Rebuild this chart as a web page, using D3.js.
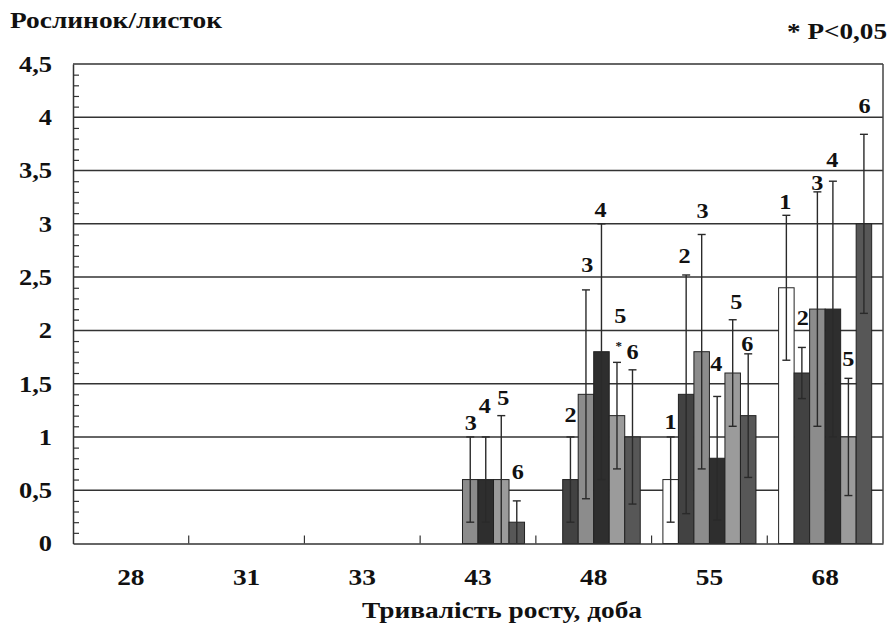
<!DOCTYPE html>
<html>
<head>
<meta charset="utf-8">
<script src="https://cdn.jsdelivr.net/npm/d3@7"></script>
<style>
  html, body { margin: 0; padding: 0; background: #fff; }
  svg { display: block; }
  text { font-family: "Liberation Serif", "Times New Roman", serif; font-weight: bold; fill: #111; }
</style>
</head>
<body>
<svg id="chart" width="890" height="628"></svg>
<script>
// ---- data ----
const categories = ["28", "31", "33", "43", "48", "55", "68"];
const seriesNames = ["1", "2", "3", "4", "5", "6"];
const s1 = [null, null, null, null, null, 0.6, 2.4];
const s2 = [null, null, null, null, 0.6, 1.4, 1.6];
const s3 = [null, null, null, 0.6, 1.4, 1.8, 2.2];
const s4 = [null, null, null, 0.6, 1.8, 0.8, 2.2];
const s5 = [null, null, null, 0.6, 1.2, 1.6, 1.0];
const s6 = [null, null, null, 0.2, 1.0, 1.2, 3.0];
const e1 = [null, null, null, null, null, 0.4, 0.68];
const e2 = [null, null, null, null, 0.4, 1.12, 0.24];
const e3 = [null, null, null, 0.4, 0.98, 1.1, 1.1];
const e4 = [null, null, null, 0.4, 1.2, 0.58, 1.2];
const e5 = [null, null, null, 0.6, 0.5, 0.5, 0.55];
const e6 = [null, null, null, 0.2, 0.63, 0.58, 0.84];
const yTicks = [0, 0.5, 1, 1.5, 2, 2.5, 3, 3.5, 4, 4.5];
const significant = [{ series: 4, category: "48" }]; // "*" marker (series index 4 = "5")

// ---- layout (label nudges, px) ----
const labelLift = [
  [null, null, null, null, null, 8, 6],
  [null, null, null, null, 15, 12, 22],
  [null, null, null, 7, 18, 16, 2],
  [null, null, null, 24, 6.5, 25, 14],
  [null, null, null, 11, 39, 11, 12],
  [null, null, null, 22, 10.6, 3.3, 21]
];
const labelShift = [
  [0, 0, 0, 0, 0, 0, -1],
  [0, 0, 0, 0, 0, -1.5, 1],
  [0, 0, 0, 0.5, 1.4, 1, 0],
  [0, 0, 0, -1, -1, -1, -0.7],
  [0, 0, 0, 2, 3.4, 3.5, 0],
  [0, 0, 0, 1, 0, -1, 0.6]
];

const values = [s1, s2, s3, s4, s5, s6];
const errors = [e1, e2, e3, e4, e5, e6];
const colors = ["#ffffff", "#424242", "#8c8c8c", "#2e2e2e", "#9b9b9b", "#575757"];

const svg = d3.select("#chart");
const pLeft = 73, pRight = 883, pTop = 64, pBottom = 543.5;

const x = d3.scaleBand().domain(categories).range([pLeft, pRight]).paddingInner(0).paddingOuter(0);
const xs = d3.scaleBand().domain(seriesNames).range([0, x.bandwidth()]).paddingInner(0).paddingOuter(0.73);
const y = d3.scaleLinear().domain([0, 4.5]).range([pBottom, pTop]);

// gridlines
svg.append("g").selectAll("line").data(yTicks.filter(d => d > 0)).join("line")
  .attr("x1", pLeft).attr("x2", pRight)
  .attr("y1", d => y(d)).attr("y2", d => y(d))
  .attr("stroke", "#333").attr("stroke-width", 1.5);

// right border
svg.append("line").attr("x1", pRight).attr("x2", pRight).attr("y1", y(4.5)).attr("y2", y(0))
  .attr("stroke", "#444").attr("stroke-width", 1.5);

// bars
const flat = [];
values.forEach((arr, si) => arr.forEach((v, ci) => {
  if (v !== null) flat.push({ si, ci, v, e: errors[si][ci] });
}));

svg.append("g").selectAll("rect").data(flat).join("rect")
  .attr("x", d => x(categories[d.ci]) + xs(seriesNames[d.si]))
  .attr("width", xs.bandwidth())
  .attr("y", d => y(d.v))
  .attr("height", d => y(0) - y(d.v))
  .attr("fill", d => colors[d.si])
  .attr("stroke", "#222").attr("stroke-width", 1);

// error bars
const cx = d => x(categories[d.ci]) + xs(seriesNames[d.si]) + xs.bandwidth() / 2;
const eg = svg.append("g").attr("stroke", "#2a2a2a").attr("stroke-width", 1.4);
eg.selectAll("line.v").data(flat).join("line").attr("class", "v")
  .attr("x1", cx).attr("x2", cx)
  .attr("y1", d => y(d.v + d.e)).attr("y2", d => y(Math.max(0, d.v - d.e)));
eg.selectAll("line.t").data(flat).join("line").attr("class", "t")
  .attr("x1", d => cx(d) - 4).attr("x2", d => cx(d) + 4)
  .attr("y1", d => y(d.v + d.e)).attr("y2", d => y(d.v + d.e));
eg.selectAll("line.b").data(flat.filter(d => d.v - d.e > 0.01)).join("line").attr("class", "b")
  .attr("x1", d => cx(d) - 4).attr("x2", d => cx(d) + 4)
  .attr("y1", d => y(d.v - d.e)).attr("y2", d => y(d.v - d.e));

// series number labels (slightly widened glyphs like the original)
const LS = 1.1;
svg.append("g").selectAll("text").data(flat).join("text")
  .attr("transform", d => `translate(${cx(d) + labelShift[d.si][d.ci]},${y(d.v + d.e) - labelLift[d.si][d.ci]}) scale(${LS},1)`)
  .attr("text-anchor", "middle")
  .attr("font-size", 22)
  .text(d => seriesNames[d.si]);

// significance star
svg.append("g").selectAll("text").data(significant).join("text")
  .attr("x", d => { const ci = categories.indexOf(d.category); return cx({ si: d.series, ci }) + 1.7; })
  .attr("y", d => { const ci = categories.indexOf(d.category); return y(values[d.series][ci] + errors[d.series][ci]) - 12; })
  .attr("text-anchor", "middle").attr("font-size", 13).attr("font-weight", "normal")
  .text("*");

// y axis
const YS = 1.15;
const yAxis = d3.axisLeft(y).tickValues(yTicks).tickSize(0).tickPadding(0)
  .tickFormat(d => String(d).replace(".", ","));
const ya = svg.append("g").attr("transform", `translate(${pLeft},0)`).call(yAxis);
ya.select(".domain").attr("stroke", "#333").attr("stroke-width", 1.5);
ya.selectAll("text").attr("font-size", 23).attr("fill", "#111")
  .attr("font-family", "Liberation Serif, Times New Roman, serif").attr("font-weight", "bold")
  .attr("x", -21 / YS).attr("transform", `scale(${YS},1)`);

// minor ticks (inside)
const minor = d3.range(1, 45).map(i => i / 10).filter(v => Math.abs(v * 2 - Math.round(v * 2)) > 1e-6);
const ym = d3.axisRight(y).tickValues(minor).tickSize(6).tickFormat("");
const yma = svg.append("g").attr("transform", `translate(${pLeft},0)`).call(ym);
yma.select(".domain").remove();
yma.selectAll("line").attr("stroke", "#333").attr("stroke-width", 1.2);

// x axis
const XS = 1.14;
const xAxis = d3.axisBottom(x).tickSize(0).tickPadding(24);
const xa = svg.append("g").attr("transform", `translate(0,${pBottom})`).call(xAxis);
xa.select(".domain").attr("stroke", "#333").attr("stroke-width", 1.5);
xa.selectAll("text").attr("font-size", 24).attr("fill", "#111")
  .attr("font-family", "Liberation Serif, Times New Roman, serif").attr("font-weight", "bold")
  .attr("transform", `scale(${XS},1)`);

// category boundary ticks (inside, upward)
svg.append("g").selectAll("line").data(categories.slice(1)).join("line")
  .attr("x1", d => x(d)).attr("x2", d => x(d))
  .attr("y1", pBottom).attr("y2", pBottom - 8)
  .attr("stroke", "#333").attr("stroke-width", 1.2);

// titles
svg.append("text").attr("x", 10).attr("y", 28).attr("font-size", 23)
  .attr("textLength", 212).attr("lengthAdjust", "spacingAndGlyphs").text("Рослинок/листок");
svg.append("text").attr("x", 787).attr("y", 39).attr("font-size", 23)
  .attr("textLength", 100).attr("lengthAdjust", "spacingAndGlyphs").text("* P<0,05");
svg.append("text").attr("x", 362).attr("y", 618).attr("font-size", 24)
  .attr("textLength", 280).attr("lengthAdjust", "spacingAndGlyphs").text("Тривалість росту, доба");
</script>
</body>
</html>
